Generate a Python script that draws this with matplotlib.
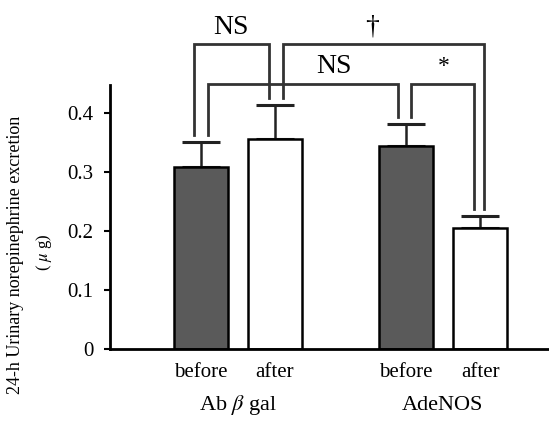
import numpy as np
import matplotlib.pyplot as plt

plt.rcParams['font.family'] = ['Liberation Serif', 'DejaVu Serif']
plt.rcParams['mathtext.fontset'] = 'stix'

# data
positions = [1, 2, 3.78, 4.79]
values = [0.308, 0.356, 0.344, 0.205]
errors = [0.043, 0.058, 0.037, 0.02]
colors = ['#5a5a5a', 'white', '#5a5a5a', 'white']
tick_labels = ['before', 'after', 'before', 'after']
groups = ['Ab $\\beta$ gal', 'AdeNOS']

# significance brackets: (x_left, x_right, y_left_end, y_right_end, y_top, label, label_x, label_y)
brackets = [
    (0.905, 1.925, 0.362, 0.425, 0.517, 'NS', 1.40, 0.545),
    (2.116, 4.85, 0.425, 0.237, 0.517, '\u2020', 3.32, 0.545),
    (1.095, 3.68, 0.362, 0.393, 0.449, 'NS', 2.80, 0.478),
    (3.857, 4.714, 0.393, 0.237, 0.449, '*', 4.30, 0.478),
]

fig = plt.figure(figsize=(5.49, 4.21), dpi=100)
ax = fig.add_axes([0.2004, 0.171, 0.80, 0.627])

ax.bar(positions, values, width=0.74, color=colors, edgecolor='black', linewidth=1.8, zorder=2)
for x, v, e in zip(positions, values, errors):
    ax.errorbar(x, v, yerr=[[0], [e]], fmt='none', ecolor='#222222', elinewidth=1.8,
                capsize=14, capthick=2.2, zorder=1)

lw = 2.0
for xl, xr, yl, yr, yt, lab, lx, ly in brackets:
    ax.plot([xl, xl, xr, xr], [yl, yt, yt, yr], color='#333333', lw=lw, clip_on=False,
            solid_joinstyle='miter')
    fs = 20 if lab != '*' else 17
    ax.text(lx, ly, lab, ha='center', va='center', fontsize=fs, clip_on=False)

ax.set_xlim(-0.24, 5.73)
ax.set_ylim(0, 0.447)
ax.set_yticks([0, 0.1, 0.2, 0.3, 0.4])
ax.set_yticklabels(['0', '0.1', '0.2', '0.3', '0.4'], fontsize=15)
ax.set_xticks(positions)
ax.set_xticklabels(tick_labels, fontsize=15)
ax.tick_params(axis='x', length=0, pad=10)
ax.tick_params(axis='y', direction='out', length=4, width=1.5, pad=8)

for x_mid, g in zip([1.5, 4.285], groups):
    ax.text(x_mid, -0.095, g, ha='center', va='center', fontsize=16, clip_on=False)

for s in ['top', 'right']:
    ax.spines[s].set_visible(False)
ax.spines['left'].set_linewidth(2)
ax.spines['bottom'].set_linewidth(2)

fig.text(0.028, 0.395, '24-h Urinary norepinephrine excretion', rotation=90,
         ha='center', va='center', fontsize=13)
fig.text(0.08, 0.40, '( $\\mu$ g)', rotation=90, ha='center', va='center', fontsize=12)

fig.savefig('out.png', dpi=100)
